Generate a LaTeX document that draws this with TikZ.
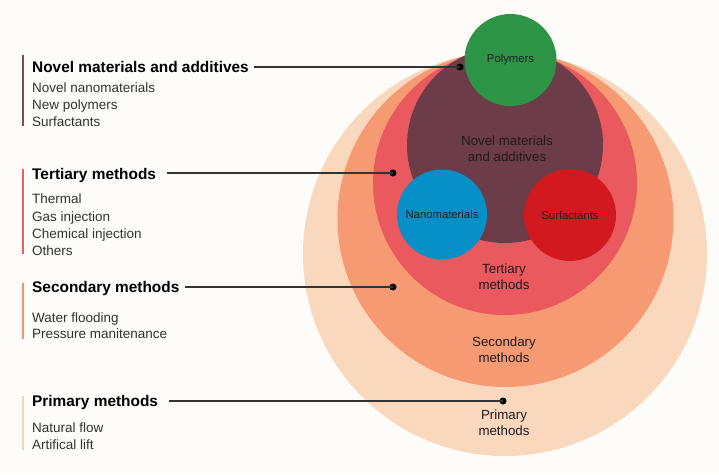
\documentclass[tikz,border=0pt]{standalone}
\usepackage{fontspec}
\setmainfont{Liberation Sans}
\definecolor{bgc}{HTML}{FDFCF9}
\definecolor{cprim}{HTML}{FAD8BD}
\definecolor{csec}{HTML}{F59A72}
\definecolor{cter}{HTML}{E9595E}
\definecolor{cnov}{HTML}{6C3C48}
\definecolor{cgreen}{HTML}{2F9546}
\definecolor{cblue}{HTML}{078FC8}
\definecolor{cred}{HTML}{D21920}
\definecolor{bnov}{HTML}{7B4F5A}
\definecolor{bter}{HTML}{E85C66}
\definecolor{bsec}{HTML}{F4906A}
\definecolor{bprim}{HTML}{F8D3BA}
\definecolor{itemc}{HTML}{333333}
\definecolor{lblc}{HTML}{221A1E}
\tikzset{
  disc/.style={circle, inner sep=0pt, draw=none},
  title/.style={anchor=base west, inner sep=0pt, font=\fontsize{15.4}{18}\selectfont\bfseries, text=black},
  item/.style={anchor=base west, inner sep=0pt, font=\fontsize{13.5}{17}\selectfont, text=itemc},
  biglbl/.style={align=center, inner sep=0pt, font=\fontsize{13.3}{16}\selectfont, text=lblc},
  smalllbl/.style={inner sep=0pt, font=\fontsize{11.3}{13}\selectfont, text=lblc},
  dot/.style={circle, fill=black, inner sep=0pt, minimum size=7pt},
  conn/.style={draw=itemc, line width=1.1pt},
  bar/.style={line width=2pt}
}
\begin{document}
\begin{tikzpicture}[x=1pt,y=-1pt]
\fill[bgc] (0,0) rectangle (719,474);
\useasboundingbox (0,0) rectangle (719,474);
% circles
\node[disc, fill=cprim, minimum size=404pt] (prim) at (505,254) {};
\node[disc, fill=csec, minimum size=336pt] (sec) at (505.5,219) {};
\node[disc, fill=cter, minimum size=264pt] (ter) at (505,183) {};
\node[disc, fill=cnov, minimum size=196pt] (nov) at (505,145) {};
\node[disc, fill=cblue, minimum size=90pt] (nano) at (442,214.5) {};
\node[disc, fill=cred, minimum size=92pt] (surf) at (570,215) {};
\node[disc, fill=cgreen, minimum size=92pt] (poly) at (510.5,60) {};
% circle labels
\node[smalllbl] at (poly.center) {Polymers};
\node[smalllbl] at (nano.center) {Nanomaterials};
\node[smalllbl] at (surf.center) {Surfactants};
\node[biglbl] (lnov) at (507,149) {Novel materials\\and additives};
\node[biglbl] (lter) at (504,277) {Tertiary\\methods};
\node[biglbl] (lsec) at (504,350) {Secondary\\methods};
\node[biglbl] (lprim) at (504,423) {Primary\\methods};
% bars
\draw[bar, bnov] (22.7,55) -- (22.7,126);
\draw[bar, bter] (22.7,169) -- (22.7,254);
\draw[bar, bsec] (22.7,283) -- (22.7,339);
\draw[bar, bprim] (22.7,396) -- (22.7,450);
% titles and items
\node[title] (t1) at (32,72) {Novel materials and additives};
\node[item] at (32,92) {Novel nanomaterials};
\node[item] at (32,109) {New polymers};
\node[item] at (32,126) {Surfactants};
\node[title] (t2) at (32,179) {Tertiary methods};
\node[item] at (32,203) {Thermal};
\node[item] at (32,221) {Gas injection};
\node[item] at (32,238) {Chemical injection};
\node[item] at (32,255) {Others};
\node[title] (t3) at (32,292) {Secondary methods};
\node[item] at (32,322) {Water flooding};
\node[item] at (32,338) {Pressure manitenance};
\node[title] (t4) at (32,406) {Primary methods};
\node[item] at (32,432) {Natural flow};
\node[item] at (32,449) {Artifical lift};
% dots
\node[dot] (d1) at (460,67) {};
\node[dot] (d2) at (393,173) {};
\node[dot] (d3) at (393,287) {};
\node[dot] (d4) at (503,401) {};
% connectors
\draw[conn] (t1.east |- d1) ++(5,0) -- (d1.center);
\draw[conn] (t2.east |- d2) ++(11,0) -- (d2.center);
\draw[conn] (t3.east |- d3) ++(5,0) -- (d3.center);
\draw[conn] (t4.east |- d4) ++(11,0) -- (d4.center);
\end{tikzpicture}
\end{document}
